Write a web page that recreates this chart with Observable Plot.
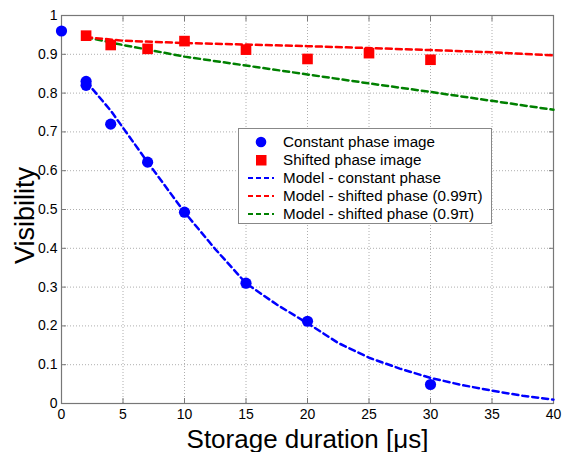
<!DOCTYPE html>
<html>
<head>
<meta charset="utf-8">
<script src="https://cdn.jsdelivr.net/npm/d3@7"></script>
<script src="https://cdn.jsdelivr.net/npm/@observablehq/plot@0.6"></script>
<style>
  html, body { margin: 0; padding: 0; background: #fff; }
  #wrap { position: relative; width: 563px; height: 452px; font-family: "Liberation Sans", Arial, sans-serif; }
  #legend { position: absolute; left: 238px; top: 128px; width: 254px; height: 96px; border: 1px solid #888; background: #fff; box-sizing: border-box; }
  #legend .row { position: absolute; left: 0; height: 18px; width: 100%; }
  #legend svg { position: absolute; left: 0; top: 0; }
  #legend span { position: absolute; left: 44px; top: 0; font-size: 15.2px; line-height: 18px; color: #000; white-space: nowrap; }
</style>
</head>
<body>
<div id="wrap"></div>
<script>
// Measured data: constant phase image (blue circles)
const constX = [0, 2, 2, 4, 7, 10, 15, 20, 30];
const constY = [0.96, 0.83, 0.82, 0.72, 0.622, 0.493, 0.31, 0.212, 0.049];
// Shifted phase image (red squares)
const shiftX = [2, 4, 7, 10, 15, 20, 25, 30];
const shiftY = [0.948, 0.924, 0.914, 0.934, 0.912, 0.888, 0.903, 0.886];
// Model - constant phase (blue dashed)
const modelConstX = [2, 4, 7, 10, 12.5, 15, 17.5, 20, 22.5, 25, 27.5, 30, 32.5, 35, 37.5, 40];
const modelConstY = [0.83, 0.755, 0.622, 0.493, 0.398, 0.31, 0.255, 0.207, 0.156, 0.118, 0.09, 0.066, 0.048, 0.033, 0.02, 0.01];
// Model - shifted phase (0.99π) (red dashed)
const model099X = [2, 5, 10, 15, 20, 25, 30, 35, 40];
const model099Y = [0.944, 0.935, 0.929, 0.925, 0.921, 0.916, 0.911, 0.905, 0.897];
// Model - shifted phase (0.9π) (green dashed)
const model09X = [2, 5, 10, 15, 20, 25, 30, 35, 40];
const model09Y = [0.944, 0.924, 0.894, 0.871, 0.848, 0.825, 0.803, 0.78, 0.757];
// Ticks
const xTicks = [0, 5, 10, 15, 20, 25, 30, 35, 40];
const yTicks = [0, 0.1, 0.2, 0.3, 0.4, 0.5, 0.6, 0.7, 0.8, 0.9, 1];
const xLabel = "Storage duration [\u03bcs]";
const yLabel = "Visibility";
const legendLabels = ["Constant phase image", "Shifted phase image", "Model - constant phase", "Model - shifted phase (0.99\u03c0)", "Model - shifted phase (0.9\u03c0)"];

const zip = (xs, ys) => xs.map((x, i) => ({x, y: ys[i]}));
const constPts = zip(constX, constY);
const shiftPts = zip(shiftX, shiftY);
const mConst = zip(modelConstX, modelConstY);
const m099 = zip(model099X, model099Y);
const m09 = zip(model09X, model09Y);

const gridStyle = {stroke: "#999", strokeOpacity: 1, strokeWidth: 0.8, strokeDasharray: "1,2"};
const dash = {strokeWidth: 2.5, strokeDasharray: "6,4"};

const chart = Plot.plot({
  width: 563,
  height: 452,
  marginLeft: 61,
  marginRight: 10,
  marginTop: 15,
  marginBottom: 49,
  style: {fontFamily: "'Liberation Sans', Arial, sans-serif", background: "#fff", color: "#000"},
  x: {domain: [0, 40]},
  y: {domain: [0, 1]},
  marks: [
    Plot.gridX(xTicks, gridStyle),
    Plot.gridY(yTicks, gridStyle),
    Plot.frame({stroke: "#777", strokeWidth: 1.2}),
    Plot.axisX(xTicks, {anchor: "bottom", tickSize: -5, tickPadding: 11, fontSize: 14, label: null, stroke: "#777", tickFormat: d3.format("~g")}),
    Plot.axisX(xTicks, {anchor: "top", tickSize: -5, label: null, stroke: "#777", tickFormat: () => ""}),
    Plot.axisY(yTicks, {anchor: "left", tickSize: -5, tickPadding: 9, fontSize: 14, label: null, stroke: "#777", tickFormat: d3.format("~g")}),
    Plot.axisY(yTicks, {anchor: "right", tickSize: -5, label: null, stroke: "#777", tickFormat: () => ""}),
    Plot.line(m09, {x: "x", y: "y", stroke: "#008000", ...dash}),
    Plot.line(m099, {x: "x", y: "y", stroke: "#ff0000", ...dash}),
    Plot.line(mConst, {x: "x", y: "y", stroke: "#0000ff", ...dash}),
    Plot.dot(shiftPts, {x: "x", y: "y", symbol: "square", r: 6, fill: "#ff0000", stroke: "none"}),
    Plot.dot(constPts, {x: "x", y: "y", r: 5.6, fill: "#0000ff", stroke: "none"}),
    Plot.text([xLabel], {frameAnchor: "bottom", textAnchor: "middle", text: d => d, dy: 44, lineAnchor: "bottom", fontSize: 26, fill: "#000"}),
    Plot.text([yLabel], {frameAnchor: "left", textAnchor: "middle", text: d => d, rotate: -90, dx: -28, dy: 6, lineAnchor: "bottom", fontSize: 27, fill: "#000"})
  ]
});

const wrap = document.getElementById("wrap");
wrap.appendChild(chart);

// Legend (HTML overlay)
const legend = document.createElement("div");
legend.id = "legend";
const kinds = [
  {type: "circle", color: "#0000ff"},
  {type: "square", color: "#ff0000"},
  {type: "dash", color: "#0000ff"},
  {type: "dash", color: "#ff0000"},
  {type: "dash", color: "#008000"}
];
legendLabels.forEach((lab, i) => {
  const row = document.createElement("div");
  row.className = "row";
  row.style.top = (4 + i * 18.1) + "px";
  const k = kinds[i];
  let sym;
  if (k.type === "circle") sym = `<circle cx="22" cy="9" r="5.3" fill="${k.color}"/>`;
  else if (k.type === "square") sym = `<rect x="17" y="4" width="10.5" height="10.5" fill="${k.color}"/>`;
  else sym = `<line x1="9" x2="35" y1="9" y2="9" stroke="${k.color}" stroke-width="2" stroke-dasharray="5,3"/>`;
  row.innerHTML = `<svg width="44" height="18">${sym}</svg><span>${lab}</span>`;
  legend.appendChild(row);
});
wrap.appendChild(legend);
</script>
</body>
</html>
